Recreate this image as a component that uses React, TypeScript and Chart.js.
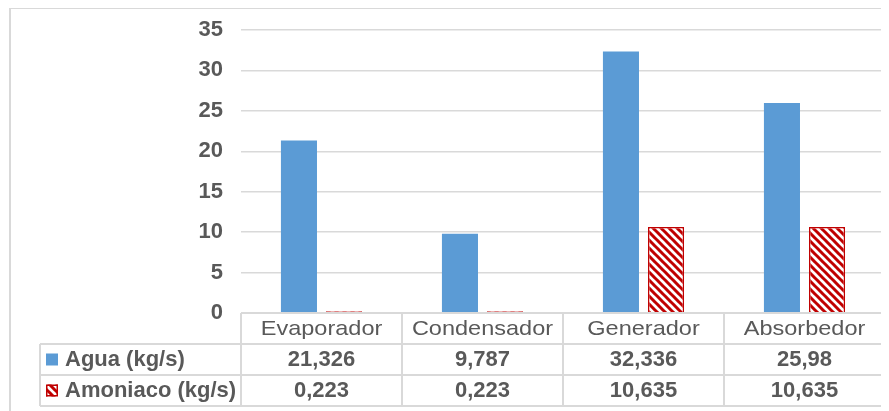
import React, { useEffect, useRef } from "react";
import { Chart, registerables } from "chart.js";

Chart.register(...registerables);

// Flow rates per component of the absorption cycle
const categories = ["Evaporador", "Condensador", "Generador", "Absorbedor"];
const aguaValues = [21.326, 9.787, 32.336, 25.98];
const amoniacoValues = [0.223, 0.223, 10.635, 10.635];
const seriesLabels = ["Agua (kg/s)", "Amoniaco (kg/s)"];
const yMin = 0;
const yMax = 35;
const yStep = 5;

const BLUE = "#5b9bd5";
const RED = "#c00000";
const TEXT = "#595959";
const LINE = "#d9d9d9";
const FONT = "'Liberation Sans', Arial, sans-serif";

const CANVAS_W = 881;
const CANVAS_H = 404;

// Decimal comma, as written in the data table
const fmt = (v: number) => String(v).replace(".", ",");

function makeHatch(ctx: CanvasRenderingContext2D): CanvasPattern | string {
  const s = 8;
  const tile = document.createElement("canvas");
  tile.width = s;
  tile.height = s;
  const g = tile.getContext("2d");
  if (!g) return RED;
  g.fillStyle = "#ffffff";
  g.fillRect(0, 0, s, s);
  g.strokeStyle = RED;
  g.lineWidth = 3;
  g.beginPath();
  g.moveTo(-1, -1);
  g.lineTo(s + 1, s + 1);
  g.moveTo(s - 1, -1);
  g.lineTo(2 * s + 1, s + 1);
  g.moveTo(-s - 1, -1);
  g.lineTo(1, s + 1);
  g.stroke();
  return ctx.createPattern(tile, "repeat") || RED;
}

function makeTablePlugin(hatch: CanvasPattern | string) {
  return {
    id: "dataTable",
    afterDraw(chart: Chart) {
      const { ctx, chartArea } = chart;
      const { left, right, bottom } = chartArea;
      const n = categories.length;
      const colW = (right - left) / n;
      const rowH = 31;
      const headerBottom = bottom + rowH;
      const row1Bottom = headerBottom + rowH;
      const row2Bottom = row1Bottom + rowH;
      const tableLeft = 32;

      ctx.save();

      // outer chart frame
      ctx.fillStyle = LINE;
      ctx.fillRect(1, 0, 2, CANVAS_H);
      ctx.fillRect(1, 0, CANVAS_W, 2);

      // grid of the data table
      ctx.strokeStyle = LINE;
      ctx.lineWidth = 2;
      ctx.beginPath();
      ctx.moveTo(left, bottom);
      ctx.lineTo(right, bottom);
      for (const y of [headerBottom, row1Bottom, row2Bottom]) {
        ctx.moveTo(tableLeft, y);
        ctx.lineTo(right, y);
      }
      ctx.moveTo(tableLeft, headerBottom);
      ctx.lineTo(tableLeft, row2Bottom);
      for (let i = 0; i <= n; i++) {
        const x = left + i * colW;
        ctx.moveTo(x, bottom);
        ctx.lineTo(x, row2Bottom);
      }
      ctx.stroke();

      ctx.fillStyle = TEXT;
      ctx.textAlign = "center";
      ctx.textBaseline = "middle";

      // category header
      const headerY = (bottom + headerBottom) / 2;
      ctx.font = `normal 21px ${FONT}`;
      categories.forEach((c, i) => {
        const cx = chart.scales.x.getPixelForValue(i);
        ctx.save();
        ctx.translate(cx, headerY + 1);
        ctx.scale(1.12, 1);
        ctx.fillText(c, 0, 0);
        ctx.restore();
      });

      // value rows
      const rows = [
        { y: (headerBottom + row1Bottom) / 2, values: aguaValues },
        { y: (row1Bottom + row2Bottom) / 2, values: amoniacoValues },
      ];
      ctx.font = `bold 22px ${FONT}`;
      rows.forEach((r) => {
        r.values.forEach((v, i) => {
          const cx = chart.scales.x.getPixelForValue(i);
          ctx.fillText(fmt(v), cx, r.y);
        });
      });

      // row labels with legend keys
      ctx.textAlign = "left";
      rows.forEach((r, k) => {
        ctx.fillText(seriesLabels[k], 57, r.y);
      });
      ctx.fillStyle = BLUE;
      ctx.fillRect(38, rows[0].y - 6, 12, 12);
      ctx.fillStyle = hatch as any;
      ctx.fillRect(38, rows[1].y - 6, 12, 12);
      ctx.strokeStyle = RED;
      ctx.lineWidth = 1.5;
      ctx.strokeRect(38.75, rows[1].y - 5.25, 10.5, 10.5);

      ctx.restore();
    },
  };
}

export default function App() {
  const canvasRef = useRef<HTMLCanvasElement | null>(null);

  useEffect(() => {
    const canvas = canvasRef.current;
    if (!canvas) return;
    const ctx = canvas.getContext("2d");
    if (!ctx) return;
    const hatch = makeHatch(ctx);

    const chart = new Chart(canvas, {
      type: "bar",
      data: {
        labels: categories,
        datasets: [
          {
            label: seriesLabels[0],
            data: aguaValues,
            backgroundColor: BLUE,
            borderWidth: 0,
          },
          {
            label: seriesLabels[1],
            data: amoniacoValues,
            backgroundColor: hatch as any,
            borderColor: RED,
            borderWidth: 1.5,
          },
        ],
      },
      options: {
        responsive: false,
        animation: false,
        events: [],
        layout: { padding: { left: 0, top: 23, right: 4, bottom: 98 } },
        datasets: {
          bar: { categoryPercentage: 0.56, barPercentage: 0.8 },
        },
        plugins: {
          legend: { display: false },
          tooltip: { enabled: false },
          title: { display: false },
        },
        scales: {
          x: {
            display: false,
            offset: true,
          },
          y: {
            min: yMin,
            max: yMax,
            border: { display: false },
            grid: {
              color: LINE,
              lineWidth: 1.5,
              drawTicks: true,
              tickLength: 15,
              tickColor: "rgba(0,0,0,0)",
            },
            ticks: {
              stepSize: yStep,
              padding: 3,
              color: TEXT,
              font: { family: FONT, size: 22, weight: "bold" },
            },
            afterFit(scale: any) {
              scale.width = 233;
            },
          },
        },
      },
      plugins: [makeTablePlugin(hatch)],
    });

    return () => chart.destroy();
  }, []);

  return (
    <div style={{ marginTop: -1, width: CANVAS_W, height: CANVAS_H }}>
      <canvas
        ref={canvasRef}
        width={CANVAS_W}
        height={CANVAS_H}
        style={{ display: "block", width: CANVAS_W, height: CANVAS_H }}
      />
    </div>
  );
}
